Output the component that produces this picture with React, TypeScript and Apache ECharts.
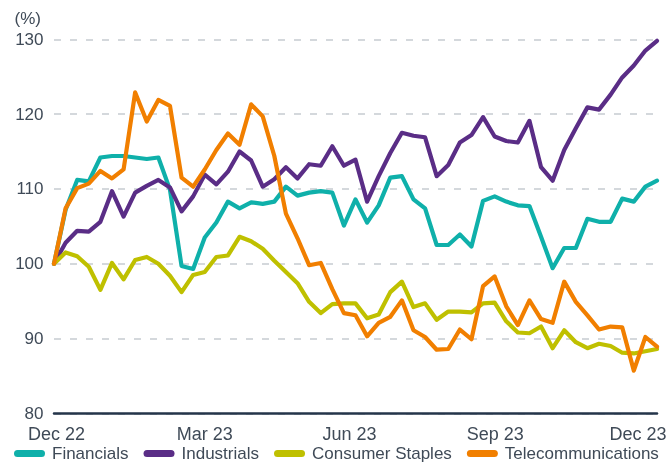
import React, { useEffect, useRef } from "react";
import * as echarts from "echarts";

const seriesNames = ["Financials", "Industrials", "Consumer Staples", "Telecommunications"];
const seriesColors = ["#0fb0aa", "#5a2d86", "#bfc000", "#f17f00"];

const financials = [100, 107.2, 111.2, 111.0, 114.2, 114.4, 114.4, 114.2, 114.0, 114.2, 109.9, 99.7, 99.3, 103.5, 105.5, 108.3, 107.4, 108.2, 108.0, 108.3, 110.3, 109.1, 109.5, 109.7, 109.5, 105.1, 108.6, 105.5, 107.8, 111.5, 111.7, 108.6, 107.4, 102.5, 102.5, 103.9, 102.3, 108.4, 109.0, 108.3, 107.8, 107.7, 103.6, 99.4, 102.1, 102.1, 106.0, 105.6, 105.6, 108.7, 108.3, 110.3, 111.1];
const industrials = [100, 102.8, 104.4, 104.3, 105.6, 109.7, 106.3, 109.5, 110.4, 111.2, 110.2, 107.0, 109.0, 111.9, 110.6, 112.3, 115.0, 113.8, 110.3, 111.3, 112.9, 111.4, 113.3, 113.1, 115.7, 113.1, 113.9, 108.3, 111.7, 114.8, 117.5, 117.1, 116.9, 111.7, 113.2, 116.2, 117.2, 119.6, 117.0, 116.4, 116.2, 119.1, 112.9, 111.1, 115.2, 118.1, 120.9, 120.6, 122.6, 124.9, 126.5, 128.5, 129.8];
const consumerStaples = [100, 101.5, 101.0, 99.6, 96.5, 100.1, 97.9, 100.5, 100.9, 100.0, 98.4, 96.2, 98.5, 98.9, 100.9, 101.1, 103.6, 103.0, 102.0, 100.4, 98.9, 97.4, 94.9, 93.4, 94.6, 94.7, 94.7, 92.7, 93.2, 96.2, 97.6, 94.2, 94.7, 92.5, 93.6, 93.6, 93.5, 94.7, 94.8, 92.3, 90.8, 90.7, 91.6, 88.7, 91.1, 89.5, 88.7, 89.3, 89.0, 88.1, 88.0, 88.3, 88.6];
const telecommunications = [100, 107.4, 110.1, 110.7, 112.4, 111.4, 112.6, 122.9, 119.0, 121.9, 121.1, 111.5, 110.3, 112.6, 115.2, 117.4, 115.9, 121.3, 119.7, 114.4, 106.7, 103.4, 99.8, 100.1, 96.6, 93.4, 93.1, 90.3, 92.1, 92.9, 95.1, 91.1, 90.2, 88.5, 88.6, 91.2, 89.9, 97.0, 98.3, 94.3, 91.8, 95.1, 92.6, 92.1, 97.6, 94.9, 93.1, 91.2, 91.6, 91.5, 85.7, 90.2, 88.9];

const weeks = financials.map((_, i) => `W${i}`);
const tickIndices = [0, 13, 26, 39, 52];
const tickLabels = ["Dec 22", "Mar 23", "Jun 23", "Sep 23", "Dec 23"];
const yTicks = [80, 90, 100, 110, 120, 130];

const FONT = "Liberation Sans";
const TEXT = "#3f4a57";

export default function App() {
  const ref = useRef<HTMLDivElement>(null);
  useEffect(() => {
    if (!ref.current) return;
    const chart = echarts.init(ref.current, null, { renderer: "svg" });
    const allData = [financials, industrials, consumerStaples, telecommunications];
    const lbl = { fontFamily: FONT, fontSize: 18, lineHeight: 17, color: TEXT };
    chart.setOption({
      animation: false,
      grid: { left: 54, right: 11, top: 39.3, bottom: 49.7, containLabel: false, outerBoundsMode: "none" },
      legend: {
        data: seriesNames,
        left: 14,
        top: 445,
        width: 700,
        itemWidth: 31,
        itemHeight: 7,
        itemGap: 15,
        padding: 0,
        icon: "path://M3.5,0 L27.5,0 A3.5,3.5 0 0 1 27.5,7 L3.5,7 A3.5,3.5 0 0 1 3.5,0 Z",
        textStyle: { fontFamily: FONT, fontSize: 17, lineHeight: 16, color: TEXT, padding: [0, 0, 0, 2] },
      },
      xAxis: {
        type: "category",
        data: weeks,
        boundaryGap: false,
        axisLine: { show: true, lineStyle: { color: "#24354a", width: 2.5 } },
        axisTick: { show: false },
        splitLine: { show: false },
        axisLabel: {
          interval: (i: number) => tickIndices.includes(i),
          margin: 12,
          ...lbl,
          formatter: (_v: string, i: number) => {
            const k = tickIndices.indexOf(i);
            return k >= 0 ? `{l${k}|${tickLabels[k]}}` : "";
          },
          rich: {
            l0: { ...lbl, padding: [0, 0, 0, 5] },
            l1: { ...lbl },
            l2: { ...lbl, padding: [0, 12, 0, 0] },
            l3: { ...lbl, padding: [0, 22, 0, 0] },
            l4: { ...lbl, padding: [0, 38, 0, 0] },
          },
        },
      },
      yAxis: {
        type: "value",
        min: yTicks[0],
        max: yTicks[yTicks.length - 1],
        interval: 10,
        name: "(%)",
        nameLocation: "end",
        nameGap: 12,
        nameTextStyle: { fontFamily: FONT, fontSize: 17, color: TEXT, align: "right", padding: [0, 13, 0, 0] },
        axisLine: { show: false },
        axisTick: { show: false },
        axisLabel: { margin: 10.5, fontFamily: FONT, fontSize: 17, color: TEXT },
        splitLine: { show: true, lineStyle: { color: "#c6cbd1", width: 1.5, type: [7, 9] } },
      },
      series: seriesNames.map((name, k) => ({
        name,
        type: "line",
        data: allData[k],
        symbol: "none",
        smooth: false,
        color: seriesColors[k],
        lineStyle: { width: 4.2, color: seriesColors[k], cap: "round", join: "round" },
      })),
    });
    return () => chart.dispose();
  }, []);
  return <div ref={ref} style={{ position: "fixed", left: 0, top: 0, width: 668, height: 463 }} />;
}
